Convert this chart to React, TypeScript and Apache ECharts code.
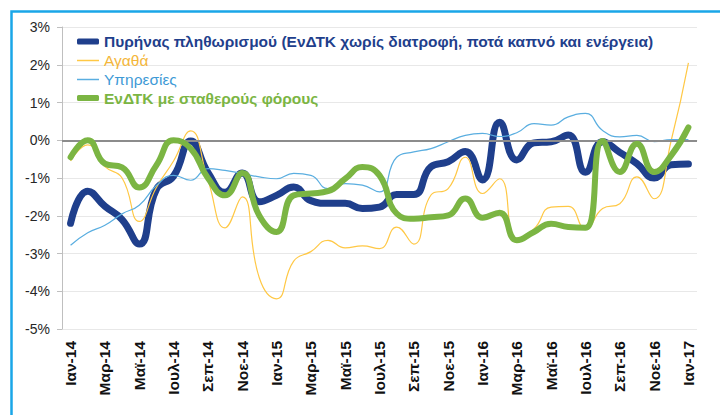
import React, { useEffect, useRef } from "react";
import * as echarts from "echarts";

const monthNames = ["Ιαν", "Φεβ", "Μαρ", "Απρ", "Μαϊ", "Ιουν", "Ιουλ", "Αυγ", "Σεπ", "Οκτ", "Νοε", "Δεκ"];
const categories: string[] = [];
for (const yr of ["14", "15", "16"]) for (const m of monthNames) categories.push(`${m}-${yr}`);
categories.push("Ιαν-17");

const seriesNames = [
  "Πυρήνας πληθωρισμού (ΕνΔΤΚ χωρίς διατροφή, ποτά καπνό και ενέργεια)",
  "Αγαθά",
  "Υπηρεσίες",
  "ΕνΔΤΚ με σταθερούς φόρους",
];

const coreValues = [
  -2.2, -1.35, -1.75, -2.1, -2.75, -1.3, -0.95, -0.02, -0.85, -1.38, -0.87, -1.63,
  -1.46, -1.24, -1.6, -1.67, -1.67, -1.81, -1.77, -1.44, -1.44, -0.7, -0.57, -0.3,
  -1.05, 0.48, -0.52, -0.07, -0.04, 0.14, -0.85, -0.04, -0.32, -0.62, -1.0, -0.65,
  -0.63,
];
const goodsValues = [
  -0.55, -0.12, -0.7, -1.0, -2.15, -1.25, -0.55, 0.25, -1.05, -2.32, -1.5, -3.65,
  -4.2, -3.2, -2.95, -2.65, -2.85, -2.8, -2.87, -2.3, -2.75, -1.45, -1.28, -0.45,
  -1.41, -1.02, -2.6, -2.35, -1.77, -1.75, -2.34, -1.81, -1.68, -0.97, -1.55, 0.0,
  2.05,
];
const servicesValues = [
  -2.78, -2.45, -2.25, -1.95, -1.72, -1.2, -0.93, -1.06, -0.75, -0.8, -0.88, -0.97,
  -1.02, -0.88, -0.93, -1.28, -1.15, -1.19, -1.37, -0.45, -0.31, -0.22, -0.04, 0.13,
  0.18, 0.1, 0.2, 0.44, 0.4, 0.62, 0.71, 0.26, 0.09, 0.13, -0.04, 0.02,
  0.02,
];
const constTaxValues = [
  -0.45, 0.0, -0.62, -0.72, -1.25, -0.66, 0.0, -0.22, -1.0, -1.46, -0.87, -2.0,
  -2.43, -1.46, -1.41, -1.35, -1.02, -0.71, -0.93, -1.94, -2.08, -2.04, -1.99, -1.54,
  -2.05, -1.92, -2.65, -2.43, -2.21, -2.3, -2.32, -0.02, -0.84, -0.09, -0.84, -0.4,
  0.34,
];

const yMin = -5;
const yMax = 3;
const yStep = 1;

const C_CORE = "#1F3F8C";
const C_GOODS = "#FFC845";
const C_SERV = "#5AAEE0";
const C_CONST = "#7BB543";
const FONT = "'Liberation Sans', Arial, sans-serif";

function fmtPct(v: number) {
  return v.toFixed(1).replace(".", ",") + "%";
}

function withEndLabel(vals: number[], position: string, color: string, offset: number[]) {
  return vals.map((v, i) =>
    i === vals.length - 1
      ? {
          value: v,
          label: {
            show: true,
            position,
            offset,
            distance: 5,
            color,
            fontWeight: "bold",
            fontSize: 15,
            fontFamily: FONT,
            formatter: (p: any) => fmtPct(p.value),
          },
        }
      : v
  );
}

function legendItem(name: string, top: number, color: string, bold: boolean, thick: boolean) {
  return {
    data: [name],
    left: 77,
    top,
    padding: 0,
    icon: thick ? "roundRect" : "rect",
    itemWidth: 22,
    itemHeight: thick ? 6 : 1.5,
    itemStyle: { borderWidth: 0 },
    selectedMode: false,
    textStyle: {
      color,
      fontSize: 15.5,
      fontWeight: bold ? "bold" : "normal",
      fontFamily: FONT,
    },
  };
}

export default function App() {
  const ref = useRef<HTMLDivElement>(null);
  useEffect(() => {
    if (!ref.current) return;
    const chart = echarts.init(ref.current, null, { renderer: "svg" });
    chart.setOption({
      animation: false,
      backgroundColor: "#ffffff",
      grid: { left: 62, right: 23, top: 27, bottom: 86, containLabel: false },
      graphic: [
        {
          type: "rect",
          shape: { x: 11.5, y: 11.5, width: 900, height: 600 },
          style: { fill: "none", stroke: "#1AA6E8", lineWidth: 2.5 },
          silent: true,
        },
      ],
      legend: [
        legendItem(seriesNames[0], 33.5, C_CORE, true, true),
        legendItem(seriesNames[1], 52.5, "#F4B63A", false, false),
        legendItem(seriesNames[2], 71.5, "#3E9AD6", false, false),
        legendItem(seriesNames[3], 90, C_CONST, true, true),
      ],
      xAxis: {
        type: "category",
        data: categories,
        boundaryGap: true,
        axisLine: { show: true, lineStyle: { color: "#E6E6E6", width: 1 } },
        axisTick: { show: false },
        splitLine: { show: false },
        axisLabel: {
          interval: 1,
          rotate: 90,
          margin: 12,
          color: "#111111",
          fontSize: 15.5,
          fontWeight: "bold",
          fontFamily: FONT,
        },
      },
      yAxis: {
        type: "value",
        min: yMin,
        max: yMax,
        interval: yStep,
        axisLine: { show: true, lineStyle: { color: "#BFBFBF", width: 1 } },
        axisTick: { show: true, length: 5, lineStyle: { color: "#BFBFBF" } },
        splitLine: { show: true, lineStyle: { color: "#E8E8E8", width: 1 } },
        axisLabel: {
          formatter: "{value}%",
          margin: 12,
          color: "#262626",
          fontSize: 14,
          fontFamily: FONT,
        },
      },
      series: [
        {
          name: "zero",
          type: "line",
          data: categories.map(() => null),
          symbol: "none",
          z: 1,
          silent: true,
          markLine: {
            silent: true,
            symbol: ["none", "none"],
            label: { show: false },
            lineStyle: { color: "#8C8C8C", width: 2, type: "solid" },
            data: [{ yAxis: 0 }],
          },
        },
        {
          name: seriesNames[0],
          type: "line",
          data: withEndLabel(coreValues, "bottom", C_CORE, [0, 2]),
          smooth: true,
          symbol: "none",
          lineStyle: { color: C_CORE, width: 7, cap: "round", join: "round" },
          itemStyle: { color: C_CORE },
          z: 2,
        },
        {
          name: seriesNames[1],
          type: "line",
          data: goodsValues,
          smooth: true,
          symbol: "none",
          lineStyle: { color: C_GOODS, width: 1.2 },
          itemStyle: { color: C_GOODS },
          z: 3,
        },
        {
          name: seriesNames[2],
          type: "line",
          data: servicesValues,
          smooth: true,
          symbol: "none",
          lineStyle: { color: C_SERV, width: 1.2 },
          itemStyle: { color: C_SERV },
          z: 4,
        },
        {
          name: seriesNames[3],
          type: "line",
          data: withEndLabel(constTaxValues, "top", C_CONST, [10, 0]),
          smooth: true,
          symbol: "none",
          lineStyle: { color: C_CONST, width: 6, cap: "round", join: "round" },
          itemStyle: { color: C_CONST },
          z: 5,
        },
      ],
    });
    return () => chart.dispose();
  }, []);
  return (
    <div
      ref={ref}
      style={{ position: "fixed", left: 0, top: 0, width: 720, height: 415, background: "#fff" }}
    />
  );
}
